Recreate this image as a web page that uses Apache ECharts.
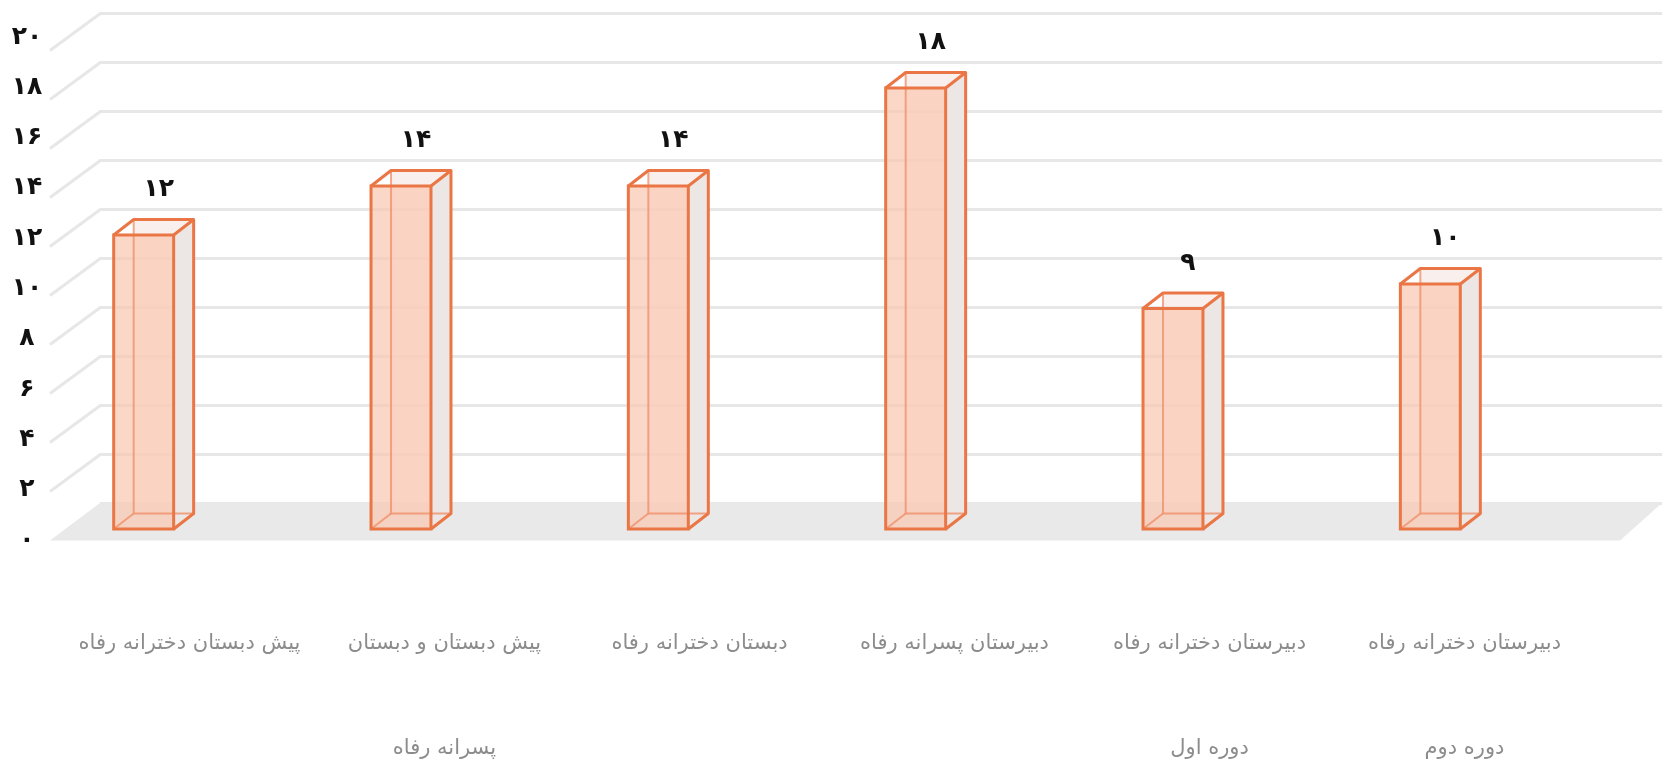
<!DOCTYPE html>
<html>
<head>
<meta charset="utf-8">
<script src="https://cdn.jsdelivr.net/npm/echarts@6/dist/echarts.min.js"></script>
<style>
html,body{margin:0;padding:0;background:#fff;}
#chart{width:1662px;height:778px;}
</style>
</head>
<body>
<div id="chart"></div>
<script>
// ---- data ----
const categories = [
  'پیش دبستان دخترانه رفاه',
  'پیش دبستان و دبستان\nپسرانه رفاه',
  'دبستان دخترانه رفاه',
  'دبیرستان پسرانه رفاه',
  'دبیرستان دخترانه رفاه\nدوره اول',
  'دبیرستان دخترانه رفاه\nدوره دوم'
];
const values = [12, 14, 14, 18, 9, 10];
const yTicks = [0, 2, 4, 6, 8, 10, 12, 14, 16, 18, 20];

// ---- helpers ----
const FA = '۰۱۲۳۴۵۶۷۸۹';
function toFa(s) { return String(s).replace(/\d/g, d => FA[+d]); }

const EDGE = '#EA7645';
const EDGE_LIGHT = 'rgba(240,140,100,0.75)';
const FONT = '"DejaVu Sans", sans-serif';
const DX = 20, DY = -15.5;            // box depth
const FLOOR_DX = -50, FLOOR_DY = 37.5; // wall-to-front depth

const chart = echarts.init(document.getElementById('chart'), null, {renderer: 'canvas'});

const option = {
  animation: false,
  backgroundColor: '#ffffff',
  grid: [
    {left: 15, width: 1544, top: 39, height: 490, outerBoundsMode: 'none', containLabel: false},   // bar front plane
    {left: 100, right: 0, top: 13, height: 490, outerBoundsMode: 'none', containLabel: false},     // back wall
    {left: 62, width: 1530, top: 37, height: 503, outerBoundsMode: 'none', containLabel: false}    // axis labels
  ],
  xAxis: [
    {gridIndex: 0, type: 'category', data: categories, show: false},
    {gridIndex: 1, type: 'category', data: categories, show: false},
    {gridIndex: 2, type: 'category', data: categories,
      axisLine: {show: false}, axisTick: {show: false}, splitLine: {show: false},
      axisLabel: {interval: 0, fontFamily: FONT, fontSize: 21, color: '#8c8c8c',
        lineHeight: 105, margin: 51}}
  ],
  yAxis: [
    {gridIndex: 0, type: 'value', min: 0, max: 20, interval: 2, show: false},
    {gridIndex: 1, type: 'value', min: 0, max: 20, interval: 2,
      axisLine: {show: false}, axisTick: {show: false}, axisLabel: {show: false},
      splitLine: {show: true, lineStyle: {color: '#e7e7e7', width: 3}}},
    {gridIndex: 2, type: 'value', min: 0, max: 20, interval: 2,
      axisLine: {show: false}, axisTick: {show: false}, splitLine: {show: false},
      axisLabel: {formatter: v => toFa(v), fontFamily: FONT, fontSize: 25, fontWeight: 'bold',
        color: '#111', align: 'center', margin: 35}}
  ],
  series: [
    // floor
    {
      type: 'custom', xAxisIndex: 1, yAxisIndex: 1, z: 1, silent: true,
      data: [[0, 0]],
      renderItem: function (params, api) {
        const cs = params.coordSys;
        const y0 = api.coord([0, 0])[1];
        return {
          type: 'polygon',
          shape: {points: [
            [cs.x, y0], [cs.x + cs.width, y0],
            [cs.x + cs.width - 42, y0 + FLOOR_DY], [cs.x + FLOOR_DX, y0 + FLOOR_DY]
          ]},
          style: {fill: '#e9e9e9'}
        };
      }
    },
    // side-wall diagonal grid lines
    {
      type: 'custom', xAxisIndex: 1, yAxisIndex: 1, z: 1, silent: true,
      data: yTicks.map(v => [0, v]),
      renderItem: function (params, api) {
        const cs = params.coordSys;
        const y = api.coord([0, api.value(1)])[1];
        if (api.value(1) === 0) return null;
        return {
          type: 'line',
          shape: {x1: cs.x + 1, y1: y, x2: cs.x + FLOOR_DX, y2: y + FLOOR_DY},
          style: {stroke: '#e7e7e7', lineWidth: 3}
        };
      }
    },
    // 3D boxes
    {
      type: 'custom', xAxisIndex: 0, yAxisIndex: 0, z: 5, silent: true,
      data: values.map((v, i) => [i, v]),
      renderItem: function (params, api) {
        const i = api.value(0), v = api.value(1);
        const top = api.coord([i, v]);
        const base = api.coord([i, 0]);
        const bw = api.size([1, 0])[0] * 0.233;
        const x0 = top[0] - bw / 2, x1 = top[0] + bw / 2;
        const yt = top[1], yb = base[1];
        return {
          type: 'group',
          children: [
            {type: 'rect', shape: {x: x0 + DX, y: yt + DY, width: bw, height: yb - yt},
              style: {fill: 'rgba(245,230,226,0.6)'}},
            {type: 'polygon', shape: {points: [[x1, yb], [x1 + DX, yb + DY], [x1 + DX, yt + DY], [x1, yt]]},
              style: {fill: '#ece6e5'}},
            {type: 'rect', shape: {x: x0, y: yt, width: bw, height: yb - yt},
              style: {fill: 'rgba(250,200,178,0.72)'}},
            {type: 'polyline', shape: {points: [[x0 + DX, yt + DY], [x0 + DX, yb + DY], [x1 + DX, yb + DY]]},
              style: {stroke: EDGE_LIGHT, lineWidth: 2, fill: null}},
            {type: 'line', shape: {x1: x0, y1: yb, x2: x0 + DX, y2: yb + DY},
              style: {stroke: EDGE_LIGHT, lineWidth: 2}},
            {type: 'rect', shape: {x: x0, y: yt, width: bw, height: yb - yt},
              style: {fill: null, stroke: EDGE, lineWidth: 3}},
            {type: 'polyline', shape: {points: [[x1, yb], [x1 + DX, yb + DY], [x1 + DX, yt + DY], [x0 + DX, yt + DY], [x0, yt]]},
              style: {fill: null, stroke: EDGE, lineWidth: 3, lineJoin: 'round'}},
            {type: 'line', shape: {x1: x1, y1: yt, x2: x1 + DX, y2: yt + DY},
              style: {stroke: EDGE, lineWidth: 3}},
            {type: 'text', style: {
              text: toFa(v), x: top[0] + 15, y: yt + DY - 30,
              align: 'center', verticalAlign: 'middle',
              textAlign: 'center', textVerticalAlign: 'middle',
              font: 'bold 25px ' + FONT, fill: '#111'}}
          ]
        };
      }
    }
  ]
};

chart.setOption(option);
</script>
</body>
</html>
